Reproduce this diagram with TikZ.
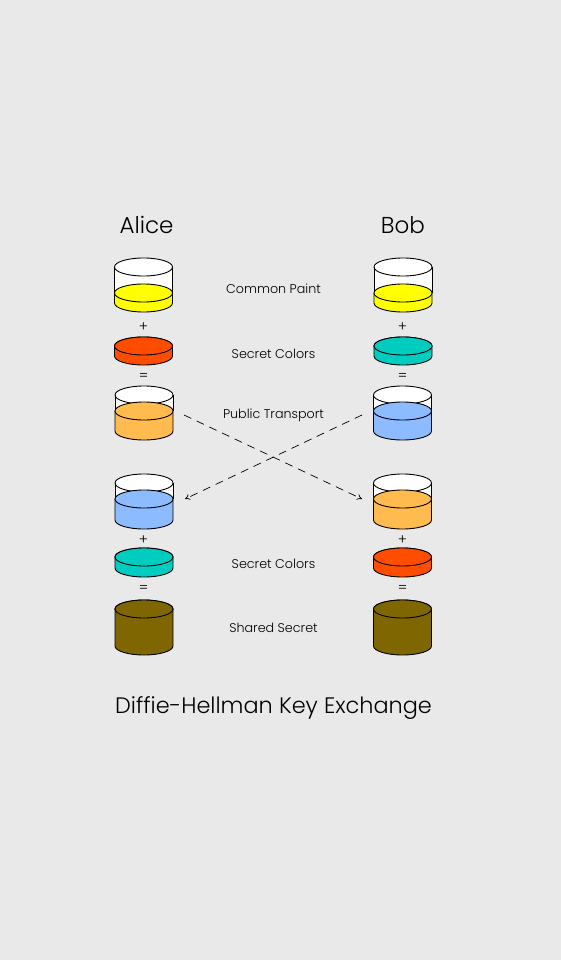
\documentclass[tikz,border=0pt]{standalone}
\usepackage{fontspec}
\setmainfont{Poppins}[UprightFont=* Light]
\usetikzlibrary{arrows.meta}
\definecolor{paper}{HTML}{E9E9E9}
\definecolor{paintyellow}{HTML}{FFFF00}
\definecolor{paintred}{HTML}{FF4D00}
\definecolor{paintteal}{HTML}{00CCBF}
\definecolor{paintorange}{HTML}{FFBB4D}
\definecolor{paintblue}{HTML}{8CBBFF}
\definecolor{paintbrown}{HTML}{806600}
\tikzset{
  bigtext/.style = {anchor=base, font=\fontsize{23}{28}\selectfont},
  titletext/.style = {anchor=base, font=\fontsize{22.4}{28}\selectfont},
  caption/.style = {anchor=base, font=\fontsize{12.7}{16}\selectfont},
  sign/.style = {font=\fontsize{14}{16}\selectfont},
  transport/.style = {dash pattern=on 8pt off 6pt, line width=0.7pt, -{To[length=5pt,width=6pt]}}
}
% can: x, top of can, top of paint, bottom, colour
\newcommand{\paintcan}[5]{
  \fill[white] (#1-29,#2) -- (#1-29,#4) arc[start angle=180,end angle=360,x radius=29pt,y radius=9pt] -- (#1+29,#2) -- cycle;
  \draw[fill=white] (#1,#2) ellipse [x radius=29pt, y radius=9pt];
  \draw (#1-29,#2) -- (#1-29,#3) (#1+29,#2) -- (#1+29,#3);
  \draw[fill=#5] (#1-29,#3) -- (#1-29,#4) arc[start angle=180,end angle=360,x radius=29pt,y radius=9pt] -- (#1+29,#3) -- cycle;
  \draw[fill=#5] (#1,#3) ellipse [x radius=29pt, y radius=9pt];
}
\begin{document}
\begin{tikzpicture}[x=1pt, y=-1pt, line width=0.9pt]
    \useasboundingbox (0,0) rectangle (560,960);
    \fill[paper] (-3,-3) rectangle (563,963);
    % Alice
    \paintcan{143.5}{267}{293}{303}{paintyellow}
    \paintcan{143.5}{346}{346}{356}{paintred}
    \paintcan{144}{395}{411}{431}{paintorange}
    \paintcan{144}{483}{499}{520}{paintblue}
    \paintcan{144}{557}{557}{568}{paintteal}
    \paintcan{144}{609}{609}{646}{paintbrown}
    % Bob
    \paintcan{403}{267}{293}{303}{paintyellow}
    \paintcan{403}{346}{346}{356}{paintteal}
    \paintcan{402.5}{395}{411}{431}{paintblue}
    \paintcan{402.5}{483}{499}{520}{paintorange}
    \paintcan{402.5}{557}{557}{568}{paintred}
    \paintcan{402.5}{609}{609}{646}{paintbrown}
    \node[bigtext] (alice) at (146.5,233) {Alice};
    \node[bigtext] (bob) at (403,233) {Bob};
    \node[sign] (plus1) at (143.5,327) {+};
    \node[sign] (eq1) at (143.5,376.5) {=};
    \node[sign] (plus2) at (402.5,327) {+};
    \node[sign] (eq2) at (402.5,376.5) {=};
    \node[sign] (plus3) at (143.5,540) {+};
    \node[sign] (eq3) at (143.5,588.5) {=};
    \node[sign] (plus4) at (402.5,540) {+};
    \node[sign] (eq4) at (402.5,588.5) {=};
    \node[caption] (common) at (273.5,293) {Common Paint};
    \node[caption] (secret1) at (273.5,358) {Secret Colors};
    \node[caption] (public) at (273.5,418) {Public Transport};
    \node[caption] (secret2) at (273.5,568) {Secret Colors};
    \node[caption] (shared) at (273.5,632) {Shared Secret};
    \node[titletext] (title) at (273.5,713) {Diffie-Hellman Key Exchange};
    \coordinate (orangeout) at (184,415);
    \coordinate (orangein) at (362,499);
    \coordinate (blueout) at (362,415);
    \coordinate (bluein) at (185,499);
    \draw[transport] (orangeout) -- (orangein);
    \draw[transport] (blueout) -- (bluein);
\end{tikzpicture}
\end{document}
